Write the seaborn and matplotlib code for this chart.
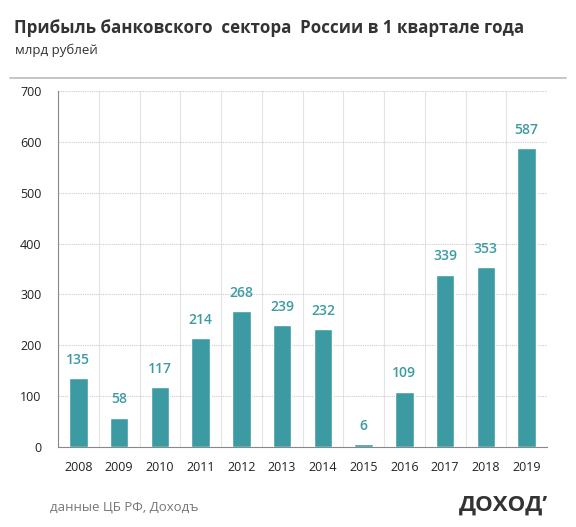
import matplotlib
matplotlib.use("Agg")
import matplotlib.pyplot as plt
import seaborn as sns
import pandas as pd
import numpy as np
from matplotlib.lines import Line2D

years = ["2008", "2009", "2010", "2011", "2012", "2013", "2014", "2015", "2016", "2017", "2018", "2019"]
profit = [135, 58, 117, 214, 268, 239, 232, 6, 109, 339, 353, 587]
yticks = [0, 100, 200, 300, 400, 500, 600, 700]

title = "Прибыль банковского  сектора  России в 1 квартале года"
subtitle = "млрд рублей"
source = "данные ЦБ РФ, Доходъ"
logo = "ДОХОДʼ"

sns.set_theme(style="white")
plt.rcParams['font.family'] = ['Open Sans', 'DejaVu Sans']

df = pd.DataFrame({"year": years, "profit": profit})
bar_color = "#3c9ba2"

fig = plt.figure(figsize=(5.76, 5.27), dpi=100)
ax = fig.add_axes([58/576, 1-447/527, (547-58)/576, (447-91)/527])

sns.barplot(data=df, x="year", y="profit", color=bar_color, width=0.45,
            saturation=1, ax=ax, zorder=3)

ax.set_ylim(0, 700)
ax.set_xlim(-0.5, len(years)-0.5)
ax.set_yticks(yticks)
ax.set_yticklabels([str(t) for t in yticks], fontsize=9, color="#222222")
ax.set_xlabel("")
ax.set_ylabel("")
ax.tick_params(axis="x", which="major", length=0, labelsize=9, labelcolor="#222222", pad=10)
ax.tick_params(axis="y", which="major", length=4, color="#888888", width=0.8, pad=8)
ax.set_xticks(np.arange(-0.5, len(years), 1), minor=True)
ax.tick_params(axis="x", which="minor", length=4, color="#888888", width=0.8, direction="out")

ax.grid(True, axis="y", which="major", color="#cccccc", linestyle=(0, (1, 1)), linewidth=0.8, zorder=0)
ax.grid(True, axis="x", which="minor", color="#e4e4e4", linestyle="-", linewidth=0.8, zorder=0)
ax.grid(False, axis="x", which="major")

for s in ["top", "right"]:
    ax.spines[s].set_visible(False)
for s in ["left", "bottom"]:
    ax.spines[s].set_color("#888888")
    ax.spines[s].set_linewidth(0.8)

for c in ax.containers:
    ax.bar_label(c, labels=[str(v) for v in profit], padding=8, color=bar_color,
                 fontsize=10, fontweight="semibold")

fig.text(14/576, 1-28/527, title, fontsize=12.2, fontweight="bold", color="#333333", va="center")
fig.text(15/576, 1-50/527, subtitle, fontsize=9.5, color="#333333", va="center")
fig.add_artist(Line2D([10/576, 566/576], [1-78/527, 1-78/527], color="#bbbbbb", linewidth=1.2))
fig.text(50/576, 1-507/527, source, fontsize=9.5, color="#777777", va="center")
fig.text(548/576, 1-505/527, logo, fontsize=16, fontweight="bold", color="#333333", va="center", ha="right")

fig.savefig("out.png", dpi=100)
